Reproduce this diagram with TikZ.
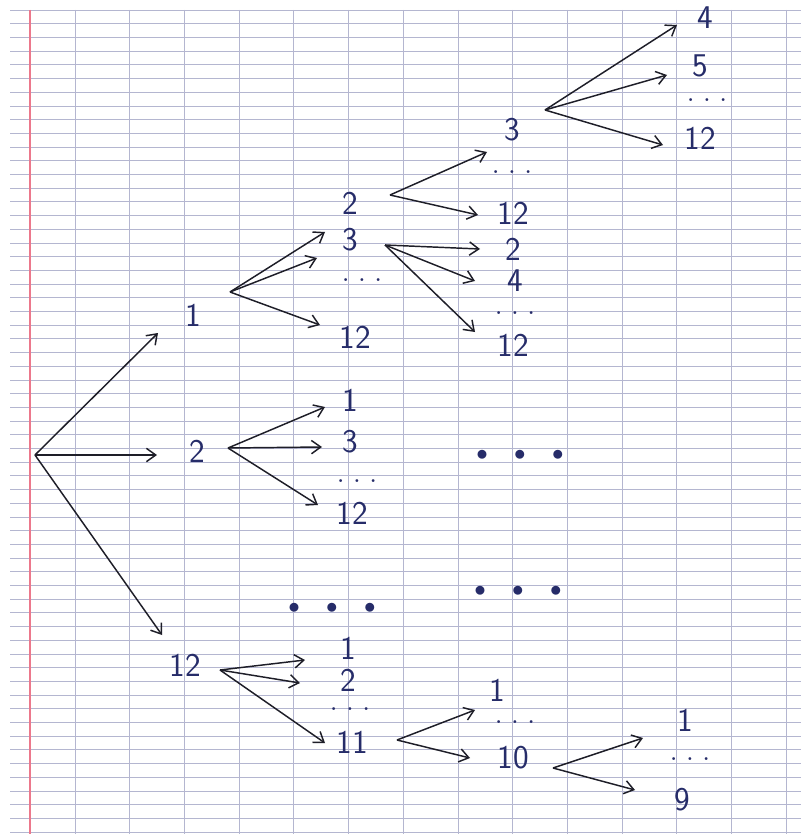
\documentclass[tikz,border=0pt]{standalone}
\usetikzlibrary{arrows.meta}
\definecolor{ink}{RGB}{38,44,105}
\definecolor{pencil}{RGB}{30,30,40}
\definecolor{rule}{RGB}{180,182,208}
\definecolor{margin}{RGB}{236,120,140}

\begin{document}
\begin{tikzpicture}[
    x=0.75pt, y=-0.75pt,
    num/.style={
        text=ink, inner sep=0pt,
        font=\sffamily\Huge
    },
    dots/.style={
        text=ink, inner sep=0pt,
        font=\bfseries\fontsize{15}{16}\selectfont
    },
    bigdots/.style={
        text=ink, inner sep=2pt,
        font=\fontsize{16}{18}\selectfont
    },
    arr/.style={-{Straight Barb[length=7pt,width=10pt]}, line width=1.1pt, pencil},
]
\useasboundingbox (0,0) rectangle (801,834);
\fill[white] (0,0) rectangle (801,834);

% Paper
\foreach \y in {10,23.7,...,834}
    \draw[rule, line width=0.5pt] (10,\y) -- (801,\y);
\foreach \x in {75,129.7,...,801}
    \draw[rule, line width=0.5pt] (\x,10) -- (\x,834);
\draw[margin, line width=0.8pt] (30,10) -- (30,834);

% Nodes
\coordinate (root) at (35,455);
\node[num] (a1) at (193,315) {1};
\node[num] (a2) at (197,451) {2};
\node[num] (a12) at (185,665) {12};

\node[num] (b2) at (350,203) {2};
\node[num] (b3) at (350,240) {3};
\node[dots] (bd) at (362,280) {. . .};
\node[num] (b12) at (355,337) {12};

\node[num] (c3) at (512,130) {3};
\node[dots] (cd) at (512,172) {. . .};
\node[num] (c12) at (513,213) {12};

\node[num] (d4) at (705,18) {4};
\node[num] (d5) at (700,66) {5};
\node[dots] (dd) at (707,100) {. . .};
\node[num] (d12) at (700,138) {12};

\node[num] (e2) at (513,249) {2};
\node[num] (e4) at (515,281) {4};
\node[dots] (ed) at (515,313) {. . .};
\node[num] (e12) at (513,345) {12};

\node[num] (f1) at (350,400) {1};
\node[num] (f3) at (350,442) {3};
\node[dots] (fd) at (357,481) {. . .};
\node[num] (f12) at (352,513) {12};

\node[bigdots] (g1) at (332,608) {$\bullet\quad\bullet\quad\bullet$};
\node[bigdots] (g2) at (520,455) {$\bullet\quad\bullet\quad\bullet$};
\node[bigdots] (g3) at (518,591) {$\bullet\quad\bullet\quad\bullet$};

\node[num] (h1) at (348,648) {1};
\node[num] (h2) at (348,680) {2};
\node[dots] (hd) at (350,709) {. . .};
\node[num] (h11) at (352,742) {11};

\node[num] (i1) at (497,690) {1};
\node[dots] (id) at (515,722) {. . .};
\node[num] (i10) at (513,758) {10};

\node[num] (j1) at (685,720) {1};
\node[dots] (jd) at (690,759) {. . .};
\node[num] (j9) at (682,800) {9};

% Fork points
\coordinate (a1o) at (230,292);
\coordinate (a2o) at (228,448);
\coordinate (a12o) at (220,670);
\coordinate (b2o) at (390,195);
\coordinate (b3o) at (385,245);
\coordinate (c3o) at (545,110);
\coordinate (h11o) at (397,740);
\coordinate (i10o) at (553,768);

% Arrows
\draw[arr] (root) -- ([shift={(-35,18)}]a1.center);
\draw[arr] (root) -- ([shift={(-40,4)}]a2.center);
\draw[arr] (root) -- ([shift={(-23,-30)}]a12.center);

\draw[arr] (a1o) -- ([shift={(-25,-8)}]b3.center);
\draw[arr] (a1o) -- ([shift={(-45,-22)}]bd.center);
\draw[arr] (a1o) -- ([shift={(-35,-12)}]b12.center);

\draw[arr] (b2o) -- ([shift={(-25,22)}]c3.center);
\draw[arr] (b2o) -- ([shift={(-35,2)}]c12.center);

\draw[arr] (c3o) -- ([shift={(-28,7)}]d4.center);
\draw[arr] (c3o) -- ([shift={(-33,9)}]d5.center);
\draw[arr] (c3o) -- ([shift={(-37,7)}]d12.center);

\draw[arr] (b3o) -- ([shift={(-33,0)}]e2.center);
\draw[arr] (b3o) -- ([shift={(-40,0)}]e4.center);
\draw[arr] (b3o) -- ([shift={(-38,-13)}]e12.center);

\draw[arr] (a2o) -- ([shift={(-25,7)}]f1.center);
\draw[arr] (a2o) -- ([shift={(-28,5)}]f3.center);
\draw[arr] (a2o) -- ([shift={(-34,-8)}]f12.center);

\draw[arr] (a12o) -- ([shift={(-43,12)}]h1.center);
\draw[arr] (a12o) -- ([shift={(-48,3)}]h2.center);
\draw[arr] (a12o) -- ([shift={(-27,1)}]h11.center);

\draw[arr] (h11o) -- ([shift={(-22,20)}]i1.center);
\draw[arr] (h11o) -- ([shift={(-43,0)}]i10.center);

\draw[arr] (i10o) -- ([shift={(-42,18)}]j1.center);
\draw[arr] (i10o) -- ([shift={(-47,-10)}]j9.center);

\end{tikzpicture}
\end{document}
